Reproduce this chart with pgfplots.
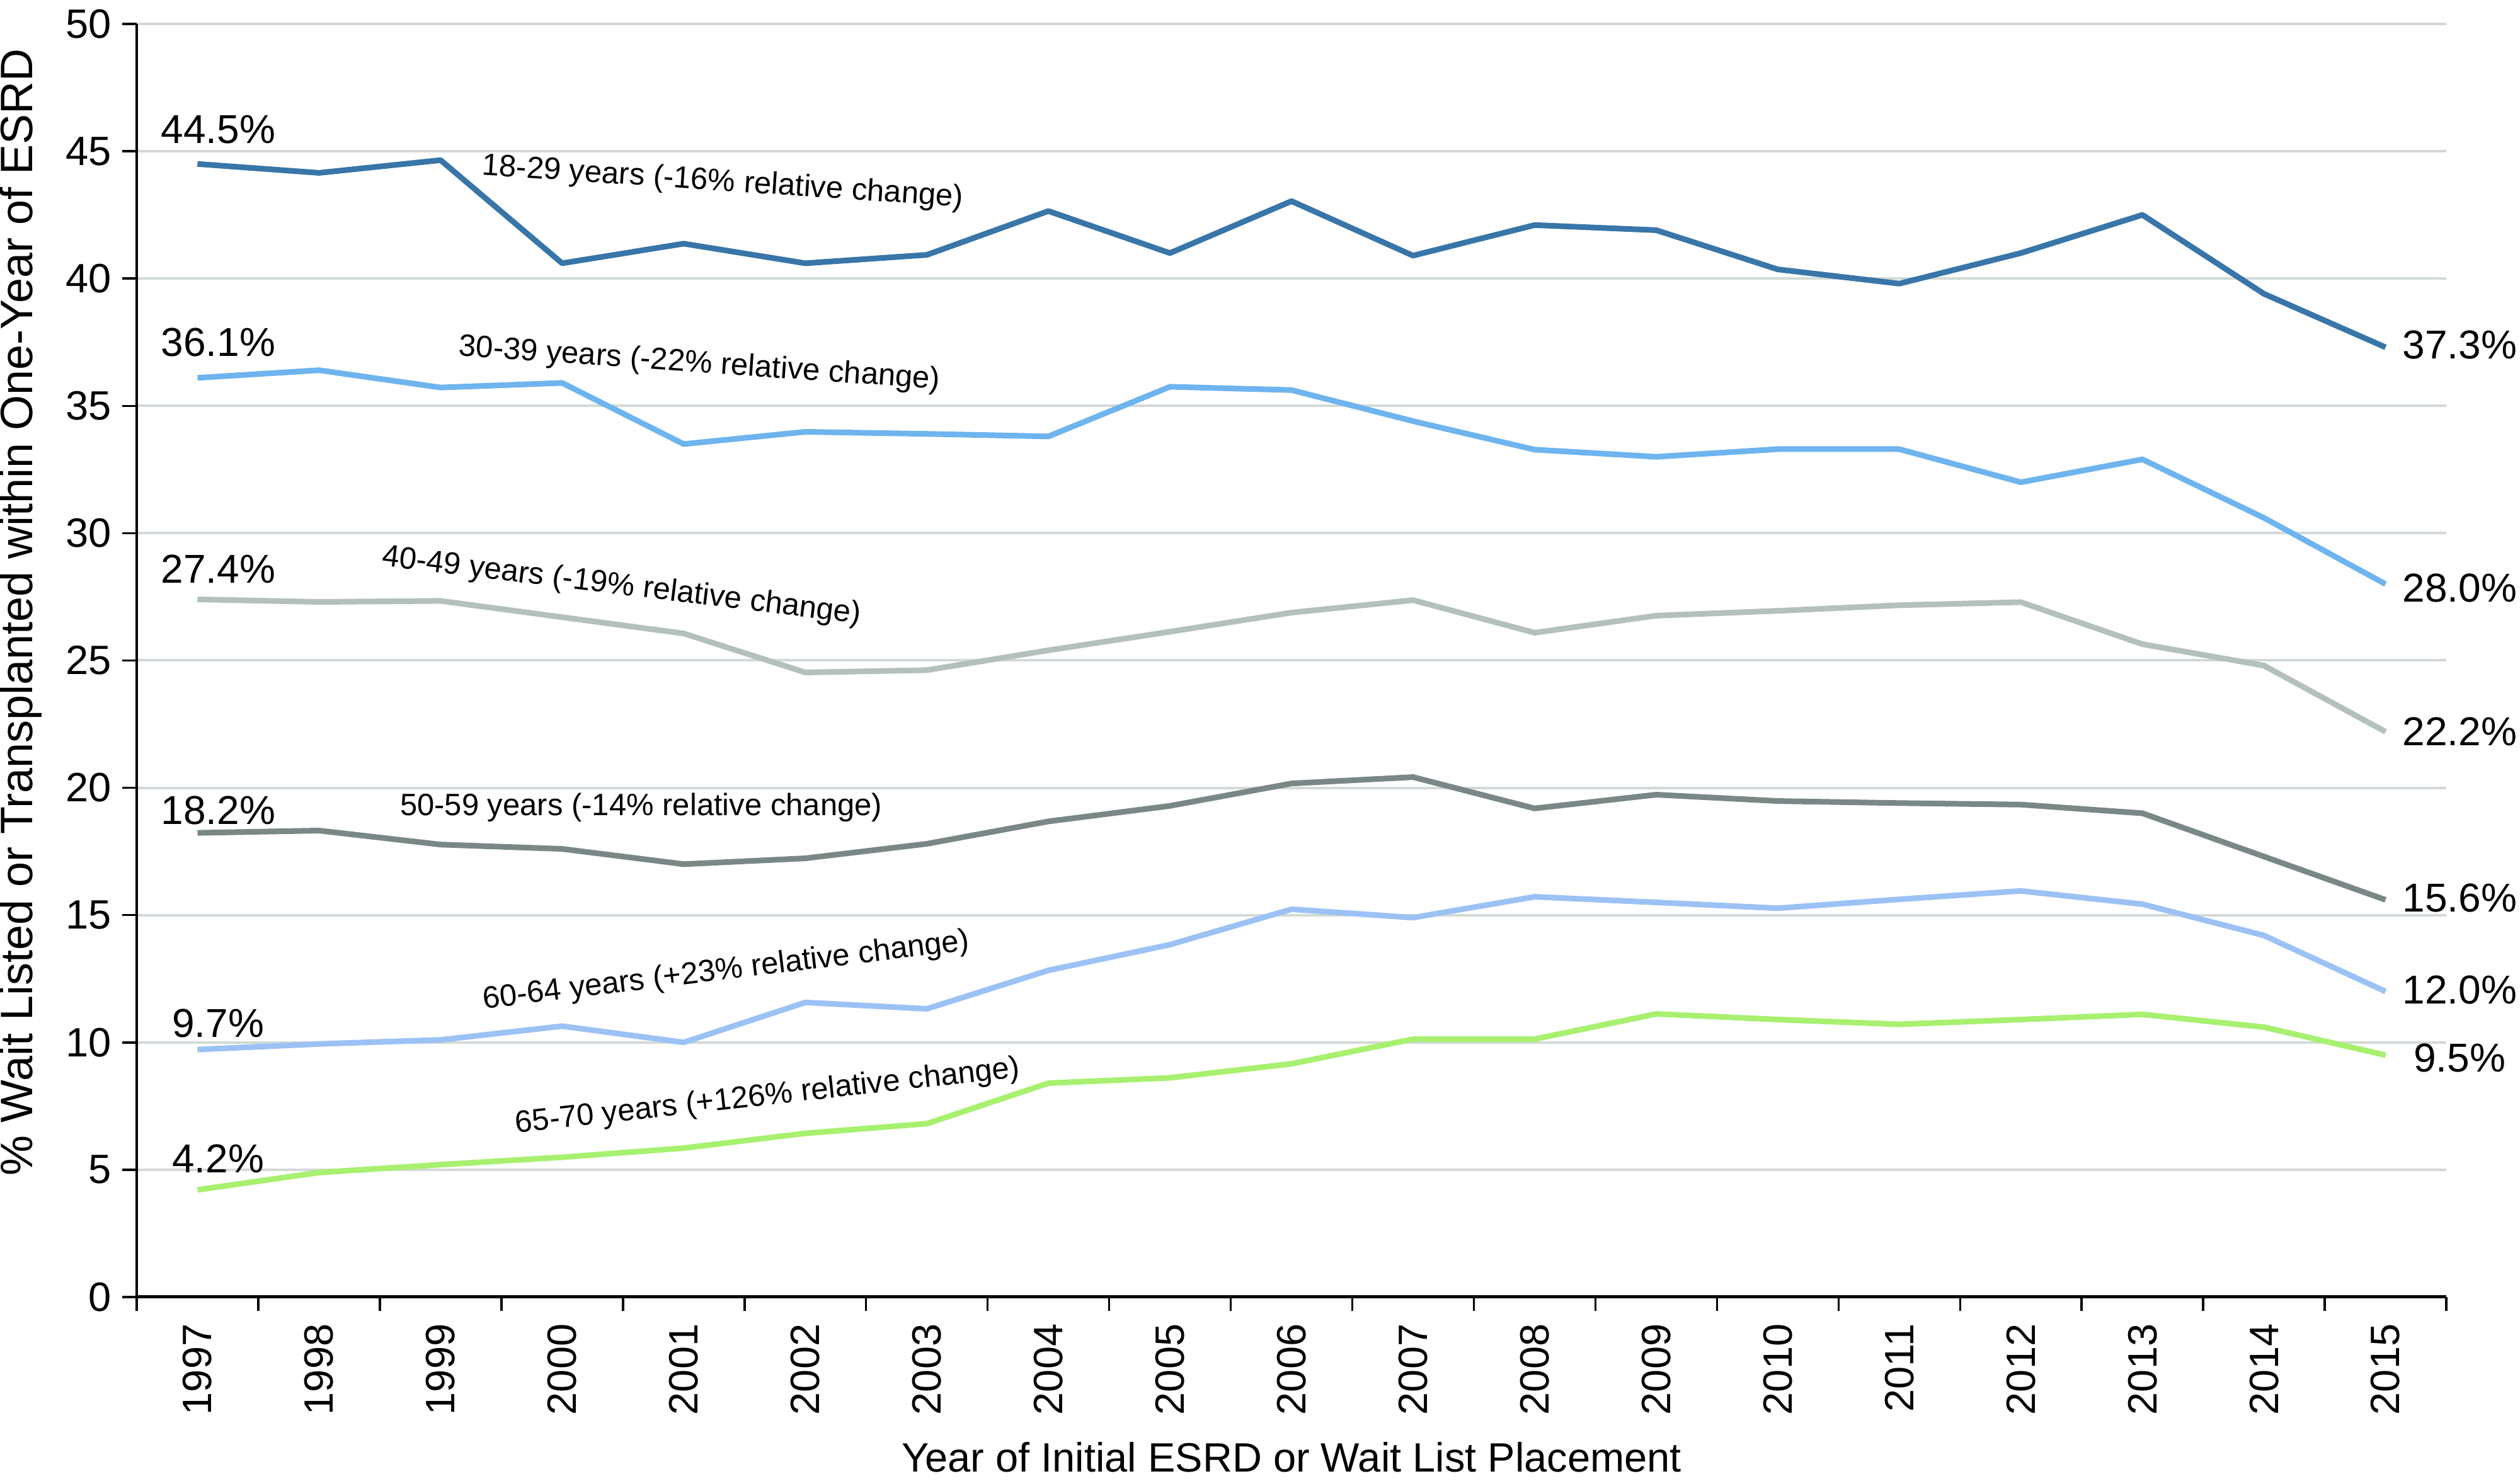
\documentclass[border=0pt]{standalone}
\usepackage{pgfplots}
\pgfplotsset{compat=1.18}
\usepackage{fontspec}
\setmainfont{Liberation Sans}
\definecolor{cA}{RGB}{56,117,168}
\definecolor{cB}{RGB}{110,180,238}
\definecolor{cC}{RGB}{180,192,186}
\definecolor{cD}{RGB}{122,135,135}
\definecolor{cE}{RGB}{156,194,245}
\definecolor{cF}{RGB}{168,240,112}
\definecolor{gridc}{RGB}{211,218,214}
\newcommand\lab{\fontsize{12.8}{14}\selectfont}
\newcommand\ann{\fontsize{9.8}{11}\selectfont}
\begin{document}
\begin{tikzpicture}
\useasboundingbox (0,0) rectangle (800pt,470.2pt);
\begin{axis}[
  at={(43.4pt,58.4pt)}, anchor=south west,
  width=733.2pt, height=404.2pt, scale only axis,
  xmin=-0.5, xmax=18.5, ymin=0, ymax=50,
  ytick={0,5,...,50},
  xtick={-0.5,0.5,...,18.5}, xticklabels={},
  extra x ticks={0,1,...,18},
  extra x tick labels={1997,1998,1999,2000,2001,2002,2003,2004,2005,2006,2007,2008,2009,2010,2011,2012,2013,2014,2015},
  extra x tick style={major tick length=0pt},
  xticklabel style={rotate=90, anchor=east, font=\fontsize{13}{13}\selectfont},
  xticklabel shift=5pt,
  yticklabel style={font=\fontsize{13}{13}\selectfont},
  /pgf/number format/assume math mode=true,
  axis x line*=bottom, axis y line*=left,
  x axis line style={line width=1.0pt,-},
  y axis line style={line width=0.8pt,-},
  tick align=outside, major tick length=4.5pt,
  tick style={black, line width=0.7pt},
  ymajorgrids, grid style={gridc, line width=0.8pt},
  clip=false,
  every axis plot/.append style={line width=1.8pt, line join=round, mark=none},
]
\addplot[cA] coordinates {(0,44.5)(1,44.15)(2,44.65)(3,40.6)(4,41.37)(5,40.6)(6,40.93)(7,42.65)(8,41.0)(9,43.04)(10,40.9)(11,42.1)(12,41.9)(13,40.36)(14,39.8)(15,41.0)(16,42.5)(17,39.4)(18,37.3)};
\addplot[cB] coordinates {(0,36.1)(1,36.4)(2,35.72)(3,35.9)(4,33.5)(5,33.98)(6,33.9)(7,33.8)(8,35.75)(9,35.62)(10,34.4)(11,33.28)(12,33.0)(13,33.3)(14,33.3)(15,32.0)(16,32.9)(17,30.6)(18,28.0)};
\addplot[cC] coordinates {(0,27.4)(1,27.3)(2,27.34)(3,26.7)(4,26.06)(5,24.53)(6,24.62)(7,25.4)(8,26.13)(9,26.88)(10,27.37)(11,26.09)(12,26.76)(13,26.95)(14,27.17)(15,27.29)(16,25.64)(17,24.8)(18,22.2)};
\addplot[cD] coordinates {(0,18.23)(1,18.32)(2,17.77)(3,17.6)(4,17.0)(5,17.23)(6,17.8)(7,18.68)(8,19.29)(9,20.17)(10,20.42)(11,19.19)(12,19.73)(13,19.48)(14,19.4)(15,19.34)(16,19.0)(17,17.3)(18,15.6)};
\addplot[cE] coordinates {(0,9.72)(1,9.94)(2,10.1)(3,10.64)(4,10.0)(5,11.57)(6,11.32)(7,12.83)(8,13.84)(9,15.23)(10,14.9)(11,15.72)(12,15.5)(13,15.27)(14,15.62)(15,15.95)(16,15.43)(17,14.2)(18,12.0)};
\addplot[cF] coordinates {(0,4.21)(1,4.89)(2,5.2)(3,5.49)(4,5.85)(5,6.43)(6,6.81)(7,8.40)(8,8.61)(9,9.16)(10,10.13)(11,10.13)(12,11.12)(13,10.9)(14,10.71)(15,10.9)(16,11.1)(17,10.6)(18,9.5)};
% start labels
\node[font=\lab] at (axis cs:0.17,45.86) {44.5\%};
\node[font=\lab] at (axis cs:0.17,37.5) {36.1\%};
\node[font=\lab] at (axis cs:0.17,28.6) {27.4\%};
\node[font=\lab] at (axis cs:0.17,19.1) {18.2\%};
\node[font=\lab] at (axis cs:0.17,10.76) {9.7\%};
\node[font=\lab] at (axis cs:0.17,5.43) {4.2\%};
% end labels
\node[font=\lab] at (axis cs:18.61,37.4) {37.3\%};
\node[font=\lab] at (axis cs:18.61,27.85) {28.0\%};
\node[font=\lab] at (axis cs:18.61,22.2) {22.2\%};
\node[font=\lab] at (axis cs:18.61,15.68) {15.6\%};
\node[font=\lab] at (axis cs:18.61,12.05) {12.0\%};
\node[font=\lab] at (axis cs:18.61,9.4) {9.5\%};
% series annotations
\node[font=\ann, rotate=-3.8] at (axis cs:4.32,43.76) {18-29 years (-16\% relative change)};
\node[font=\ann, rotate=-4.0] at (axis cs:4.13,36.63) {30-39 years (-22\% relative change)};
\node[font=\ann, rotate=-6.9] at (axis cs:3.49,27.9) {40-49 years (-19\% relative change)};
\node[font=\ann] at (axis cs:3.65,19.22) {50-59 years (-14\% relative change)};
\node[font=\ann, rotate=6.9] at (axis cs:4.35,12.79) {60-64 years (+23\% relative change)};
\node[font=\ann, rotate=6.35] at (axis cs:4.69,7.86) {65-70 years (+126\% relative change)};
% axis titles
\node[font=\fontsize{13}{13}\selectfont, anchor=base] at ([yshift=-55.6pt]rel axis cs:0.5,0) {Year of Initial ESRD or Wait List Placement};
\node[font=\fontsize{14.4}{15}\selectfont, rotate=90] at ([xshift=-36.8pt]rel axis cs:0,0.538) {\% Wait Listed or Transplanted within One-Year of ESRD};
\end{axis}
\end{tikzpicture}
\end{document}
